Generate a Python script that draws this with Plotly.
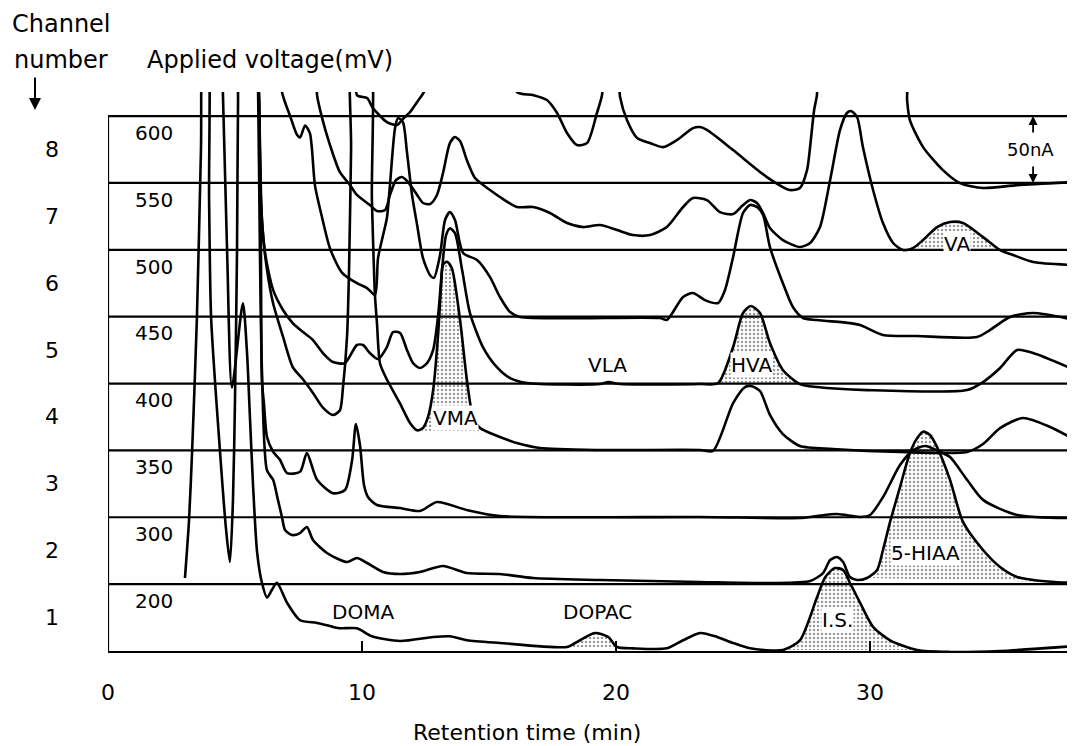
import plotly.graph_objects as go

# ---------------- data (retention time in min, signal in nA above each channel's baseline)
channel_numbers = [1, 2, 3, 4, 5, 6, 7, 8]
applied_voltage_mV = [200, 300, 350, 400, 450, 500, 550, 600]
band_nA = 50

ch1_t = [4.45, 4.69, 4.88, 5.31, 5.47, 5.59, 5.71, 5.87, 6.06, 6.26, 6.46, 6.65, 7.05, 7.56, 8.23, 8.86,
         9.13, 9.80, 10.39, 11.5, 12.8, 13.46, 14.13, 15.43, 18.07, 18.39, 19.17, 19.69, 20.04, 20.67,
         22.0, 22.64, 23.31, 23.98, 24.61, 25.28, 26.57, 27.24, 27.91, 28.23, 28.62, 28.94, 29.21,
         29.61, 30.12, 30.79, 31.85, 33.15, 35.12, 38.07]
ch1_s = [470, 298, 197, 260, 224, 174, 124, 74, 51, 40, 46, 51, 36, 23, 21, 18,
         17, 17, 11, 7.5, 10.5, 11, 8, 6, 3, 6, 13.5, 10.5, 3, 2,
         2, 8, 13.5, 10.5, 6, 2, 0.7, 8, 40, 55, 62, 60.6, 51,
         36, 18, 8, 0.7, -0.7, 0, 3.7]

ch2_t = [3.03, 3.19, 3.31, 3.50, 3.66, 3.78, 3.90, 3.98, 4.06, 4.41, 4.65, 4.80, 4.92, 5.00, 5.08, 5.12,
         5.20, 5.83, 5.91, 5.98, 6.06, 6.26, 6.50, 6.69, 6.85, 6.97, 7.24, 7.56, 7.83, 8.07, 8.62, 9.41,
         9.80, 10.20, 10.83, 11.50, 12.28, 13.19, 14.13, 15.43, 16.73, 19.37, 23.31, 26.06, 27.64, 28.15,
         28.43, 28.70, 28.94, 29.21, 29.49, 29.88, 30.28, 30.51, 30.79, 31.18, 31.57, 31.85, 32.09, 32.36,
         32.64, 33.15, 33.66, 34.45, 35.12, 35.79, 36.42, 37.28, 38.07]
ch2_s = [4.6, 47.9, 98.8, 199, 325, 420, 420, 287, 199, 99, 40.5, 16.5, 63, 138, 250, 362,
         420, 420, 367, 250, 160, 85, 78, 63, 50, 40.5, 36.7, 38.2, 42.7, 33, 23.3, 16.5,
         19.5, 15.8, 9.1, 7.6, 9.1, 13.6, 8.3, 7.6, 4.6, 3.1, 1.6, 0.8, 2.3, 8.3,
         18, 20.3, 16.5, 5.3, 3.1, 4.6, 10.6, 25.5, 46.5, 72.6, 98, 109, 114, 111.5,
         102.5, 78, 46.5, 25.5, 12.8, 5.3, 3.1, 1.6, 0.8]

ch3_t = [5.83, 5.94, 6.02, 6.06, 6.14, 6.26, 6.50, 6.77, 7.05, 7.56, 7.83, 8.23, 8.86, 9.33, 9.61, 9.76,
         9.92, 10.08, 10.24, 10.59, 11.50, 12.28, 12.95, 14.13, 15.43, 23.31, 27.24, 27.91, 28.70, 29.61,
         30.00, 30.51, 31.18, 31.69, 32.17, 32.76, 33.15, 33.82, 34.45, 35.79, 38.07]
ch3_s = [360, 317, 200, 102, 85, 60, 49, 43, 33, 34, 48, 28, 18, 20.4, 42.8, 69.7,
         54, 24, 15, 9.2, 6.9, 4.7, 11.4, 5.4, 0.9, 0.2, -0.6, 0.9, 2.4, 0.2,
         1.7, 15, 39, 50, 53.3, 49, 45, 28, 13, 1.7, -0.6]

ch4_t = [5.83, 5.94, 6.06, 6.26, 6.50, 6.89, 7.28, 7.68, 8.07, 8.46, 8.86, 9.13, 9.25, 9.41, 9.49, 9.57,
         9.65, 10.24, 10.39, 10.51, 10.59, 10.71, 10.98, 11.50, 11.89, 12.17, 12.40, 12.60, 12.80, 12.99,
         13.11, 13.19, 13.35, 13.54, 13.86, 14.13, 14.37, 14.65, 15.04, 15.43, 16.10, 17.00, 19.37, 23.31,
         23.82, 24.61, 25.08, 25.35, 25.67, 26.06, 26.57, 27.24, 28.54, 31.18, 33.82, 34.45, 35.12, 36.02,
         37.09, 38.07]
ch4_s = [310, 267, 172, 135, 110, 85, 62, 53, 43, 32, 26.5, 30, 47, 85, 135, 225,
         310, 310, 187, 116, 95, 65, 53, 35, 20.5, 15, 16.7, 25, 45, 85,
         122, 139, 141, 136, 97.5, 52.6, 25, 16.7, 13, 10, 5.5, 1.8, 0.3, 0.3,
         -0.4, 35.4, 47.4, 48, 44.4, 26.5, 12.2, 3.3, 1.1, -1.2, -1.2, 4.8, 16.7, 24.2,
         17.5, 7.8]

ch5_t = [5.83, 5.94, 6.02, 6.18, 6.50, 6.89, 7.28, 7.68, 8.07, 8.46, 8.86, 9.33, 9.80, 10.04, 10.31, 10.63,
         10.98, 11.22, 11.50, 11.77, 12.01, 12.28, 12.56, 12.80, 12.99, 13.15, 13.31, 13.46, 13.66, 13.94,
         14.25, 14.76, 15.31, 15.83, 16.50, 19.37, 19.69, 20.16, 23.31, 24.02, 24.61, 25.00, 25.31, 25.67,
         26.06, 26.57, 27.24, 27.91, 29.88, 33.82, 34.45, 35.12, 35.79, 36.42, 38.07]
ch5_s = [260, 217, 137, 98, 70, 55, 45, 38.5, 32.5, 22.8, 16.1, 15.3, 28.8, 28.8, 22.8, 18.3,
         27.3, 38.5, 37.8, 25.1, 15.3, 11.6, 15.3, 25.1, 49.7, 85, 111, 116, 112.5, 85,
         52.7, 27.3, 12.3, 4.1, 0.4, -0.4, 1.1, -0.4, -0.4, 0.4, 27.3, 52.7, 58, 52.7,
         30.3, 10.1, -0.4, -2.6, -4.9, -4.9, 1.1, 11.6, 25.1, 22.8, 10.1]

ch6_t = [5.83, 6.77, 6.85, 7.17, 7.44, 7.56, 7.76, 7.95, 8.15, 8.43, 8.74, 9.21, 9.80, 10.20, 10.51, 10.63,
         10.83, 10.98, 11.10, 11.30, 11.42, 11.61, 11.77, 11.97, 12.17, 12.40, 12.68, 12.83, 13.07, 13.27,
         13.46, 13.66, 13.98, 14.53, 15.04, 15.43, 15.83, 16.22, 21.73, 22.00, 22.64, 23.03, 23.50, 24.02,
         24.29, 24.61, 25.00, 25.28, 25.55, 25.79, 26.06, 26.57, 26.97, 27.36, 27.91, 29.21, 29.61, 30.51,
         31.85, 34.21, 34.72, 35.51, 36.42, 38.07]
ch6_s = [210, 210, 168, 150, 136, 134, 143, 137, 98, 74, 51, 33, 25, 21.4, 16.2, 43.8,
         61, 73.8, 98.4, 141, 148.5, 145.5, 123, 91, 68.5, 43.8, 31, 29, 46, 72.3,
         78.2, 72.3, 47.6, 42.4, 29.6, 14.7, 3.5, -0.3, -1, -2.5, 14.7, 17.7, 12.4, 10.2,
         19.9, 44.6, 77.5, 83.5, 82, 76, 52, 25, 7, -1, -2.5, -4.8, -6.2, -13.7,
         -14.5, -15.2, -10, -0.3, 2.7, -2.5]

ch7_t = [5.83, 8.11, 8.23, 8.43, 8.74, 9.13, 9.53, 9.80, 10.31, 10.59, 10.91, 11.10, 11.34, 11.57, 11.81,
         12.17, 12.40, 12.68, 12.95, 13.19, 13.46, 13.66, 13.86, 14.13, 14.45, 15.04, 15.43, 16.10, 16.73,
         17.40, 18.07, 18.70, 19.37, 20.04, 20.67, 21.34, 22.00, 22.64, 23.03, 23.58, 24.09, 24.61, 24.96,
         25.28, 25.55, 25.79, 26.06, 26.57, 27.24, 27.64, 28.03, 28.43, 28.82, 29.09, 29.25, 29.49, 29.72,
         30.12, 30.51, 30.91, 31.30, 31.69, 32.09, 32.64, 33.15, 33.66, 34.45, 35.12, 35.63, 36.42, 38.07]
ch7_s = [160, 160, 115.7, 98.5, 78.3, 58, 48.4, 41, 33.5, 29, 29.7, 41, 52.2, 54.4, 50.7,
         41, 35, 34.2, 41, 57.4, 79.8, 84.3, 81.3, 67, 53.7, 44.7, 39.5, 32, 32,
         27.5, 20, 17, 18.5, 14.8, 11, 11, 17, 32, 38.7, 37.2, 28.2, 26.7, 32.7,
         37.2, 35, 27.5, 16.3, 7.3, 2.1, 5.1, 17, 52.2, 89.6, 102.3, 103.8, 99.3, 76.8,
         44.7, 20, 5.1, -0.2, 1.3, 7.3, 17, 20.8, 20, 9.5, -0.2, -3.9, -9.1, -11.4]

ch8_t = [5.83, 9.72, 9.80, 10.20, 10.43, 10.98, 11.38, 11.61, 11.89, 12.17, 12.48, 12.76, 15.83, 16.10,
         16.73, 17.28, 17.68, 18.07, 18.46, 18.86, 19.25, 19.45, 19.61, 20.00, 20.16, 20.43, 20.83, 21.34,
         21.85, 22.40, 23.03, 23.31, 23.58, 24.61, 25.94, 26.85, 27.24, 27.52, 27.64, 27.80, 27.91, 28.03,
         31.38, 31.46, 31.57, 32.09, 32.87, 33.54, 34.45, 35.79, 38.07]
ch8_s = [110, 110, 65.7, 63.5, 56, 45.5, 43.3, 47.8, 53, 60.5, 69.5, 100, 100, 68,
         65.7, 62, 52.3, 37.3, 28.3, 29.8, 52.3, 65.7, 100, 100, 64.2, 47, 33.6, 29.8,
         26.8, 32.1, 41, 41.8, 39.6, 24.6, 4.4, -5.3, -3.8, 9.6, 26.8, 54.5, 65.7, 100,
         100, 62, 47, 26.8, 9.6, -0.1, -3.8, -1.6, 0.7]

# shaded (identified) peaks: name, channel, integration window (min)
peak_names = ["I.S.", "DOPAC", "5-HIAA", "VMA", "HVA", "VA"]
peak_channel = [1, 1, 2, 4, 5, 7]
peak_start = [26.57, 18.07, 29.88, 12.17, 24.02, 31.30]
peak_end = [31.85, 20.04, 37.28, 15.04, 27.24, 35.12]

x_ticks = [0, 10, 20, 30]

# compound labels
label_text = ["DOMA", "DOPAC", "I.S.", "5-HIAA", "VMA", "VLA", "HVA", "VA"]
label_t = [10.04, 19.29, 28.7, 32.17, 13.7, 19.65, 25.35, 33.43]
label_y = [29.2, 29.2, 23.2, 73.3, 174.2, 213.8, 213.8, 304.3]
label_boxed = [False, False, True, True, True, False, True, True]

# ---------------- figure
times = [ch1_t, ch2_t, ch3_t, ch4_t, ch5_t, ch6_t, ch7_t, ch8_t]
signals = [ch1_s, ch2_s, ch3_s, ch4_s, ch5_s, ch6_s, ch7_s, ch8_s]

FONT = "DejaVu Sans"
XMAX = 38.07
YMAX = 418
LW = 2.6

fig = go.Figure()

# stippled peak areas
for name, ch, a, b in zip(peak_names, peak_channel, peak_start, peak_end):
    off = (ch - 1) * band_nA
    T = times[ch - 1]
    S = signals[ch - 1]
    xs = [t for t in T if a <= t <= b]
    ys = [s + off for t, s in zip(T, S) if a <= t <= b]
    fig.add_trace(go.Scatter(
        x=xs, y=ys, mode="lines", fill="toself", fillcolor="rgba(0,0,0,0)",
        line=dict(width=0, shape="spline", smoothing=0.7, color="rgba(0,0,0,0)"),
        fillpattern=dict(shape=".", size=4, solidity=0.3, fgcolor="#333", bgcolor="rgba(0,0,0,0)"),
        hoverinfo="skip", showlegend=False))

# chromatogram traces
for ch, T, S in zip(channel_numbers, times, signals):
    off = (ch - 1) * band_nA
    fig.add_trace(go.Scatter(
        x=T, y=[s + off for s in S], mode="lines",
        line=dict(color="black", width=LW, shape="spline", smoothing=0.7),
        name=f"Channel {ch}", showlegend=False))

shapes = []
for ch in channel_numbers:
    shapes.append(dict(type="line", xref="x", yref="y", x0=0, x1=XMAX, y0=ch * band_nA, y1=ch * band_nA,
                       line=dict(color="black", width=2.2), layer="below"))
shapes.append(dict(type="line", xref="x", yref="y", x0=0, x1=0, y0=0, y1=8 * band_nA,
                   line=dict(color="black", width=2.2), layer="below"))

C = dict(xanchor="center", yanchor="middle")
ann = []
for ch, v in zip(channel_numbers, applied_voltage_mV):
    ann.append(dict(xref="paper", yref="y", x=-0.058, y=ch * band_nA - 25, text=str(ch),
                    showarrow=False, font=dict(size=22, family=FONT, color="black"), **C))
    ann.append(dict(xref="x", yref="y", x=1.81, y=ch * band_nA - 12.5, text=str(v),
                    showarrow=False, font=dict(size=20, family=FONT, color="black"), **C))

ann.append(dict(xref="paper", yref="paper", x=-0.0476, y=1.1216, text="Channel", showarrow=False,
                font=dict(size=24, family=FONT, color="black"), **C))
ann.append(dict(xref="paper", yref="paper", x=-0.0486, y=1.0572, text="number", showarrow=False,
                font=dict(size=24, family=FONT, color="black"), **C))
ann.append(dict(xref="paper", yref="paper", x=0.1675, y=1.0572, text="Applied voltage(mV)", showarrow=False,
                font=dict(size=24, family=FONT, color="black"), **C))
ann.append(dict(xref="paper", yref="paper", x=-0.0755, y=0.9678, text="", showarrow=True, ax=0, ay=-34,
                arrowhead=2, arrowsize=1.2, arrowwidth=2, arrowcolor="black"))
ann.append(dict(xref="paper", yref="paper", x=0.433, y=-0.145, text="Retention time (min)", showarrow=False,
                font=dict(size=22, family=FONT, color="black"), **C))

for txt, t, y, bx in zip(label_text, label_t, label_y, label_boxed):
    ann.append(dict(xref="x", yref="y", x=t, y=y, text=txt, showarrow=False,
                    bgcolor="white" if bx else "rgba(0,0,0,0)", borderpad=0,
                    font=dict(size=20, family=FONT, color="black"), **C))

# 50 nA scale bar
ann.append(dict(xref="x", yref="y", x=36.3, y=7.5 * band_nA, text="50nA", showarrow=False,
                font=dict(size=18, family=FONT, color="black"), **C))
ann.append(dict(xref="x", yref="y", x=36.42, y=8 * band_nA, text="", showarrow=True, ax=0, ay=18,
                arrowhead=2, arrowsize=1, arrowwidth=1.8, arrowcolor="black"))
ann.append(dict(xref="x", yref="y", x=36.42, y=7 * band_nA, text="", showarrow=True, ax=0, ay=-18,
                arrowhead=2, arrowsize=1, arrowwidth=1.8, arrowcolor="black"))

# page body has an 8px margin, so size/margins are reduced by 8px to keep the plot in place
fig.update_layout(
    width=1067, height=738,
    margin=dict(l=100, r=0, t=84, b=95, pad=0),
    paper_bgcolor="white", plot_bgcolor="white",
    showlegend=False,
    shapes=shapes, annotations=ann,
    xaxis=dict(range=[0, XMAX], tickvals=x_ticks, ticktext=[str(v) for v in x_ticks],
               ticks="inside", ticklen=10, tickwidth=2, tickcolor="black",
               showline=True, linecolor="black", linewidth=2.2, showgrid=False, zeroline=False,
               tickfont=dict(size=22, family=FONT, color="black"), ticklabelstandoff=20),
    yaxis=dict(range=[0, YMAX], visible=False, showgrid=False, zeroline=False),
)

fig.write_html("out.html")
